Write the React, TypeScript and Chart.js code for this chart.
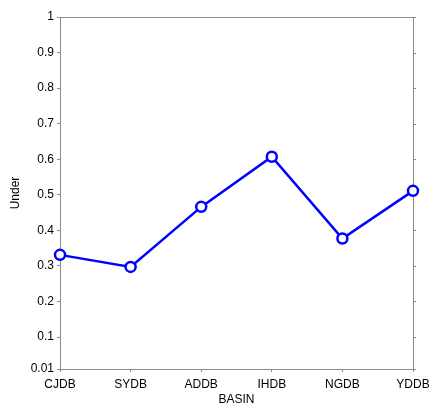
import { useEffect, useRef } from 'react';
import { Chart, registerables } from 'chart.js';
Chart.register(...registerables);

const categories = ['CJDB', 'SYDB', 'ADDB', 'IHDB', 'NGDB', 'YDDB'];
const underValues = [0.331, 0.297, 0.466, 0.607, 0.377, 0.511];
const yTickValues = [0.01, 0.1, 0.2, 0.3, 0.4, 0.5, 0.6, 0.7, 0.8, 0.9, 1];

const AXIS = '#8c8c8c';
const FONT = "'Liberation Sans', Arial, sans-serif";

const boxPlugin = {
  id: 'boxPlugin',
  beforeDatasetsDraw(chart: any) {
    const { ctx, chartArea } = chart;
    const y = chart.scales.y;
    ctx.save();
    ctx.strokeStyle = AXIS;
    ctx.lineWidth = 1;
    ctx.beginPath();
    ctx.moveTo(chartArea.left, chartArea.top + 0.5);
    ctx.lineTo(chartArea.right, chartArea.top + 0.5);
    ctx.moveTo(Math.round(chartArea.right) + 0.5, chartArea.top);
    ctx.lineTo(Math.round(chartArea.right) + 0.5, chartArea.bottom);
    y.ticks.forEach((t: any) => {
      const py = Math.round(y.getPixelForValue(t.value)) + 0.5;
      ctx.moveTo(Math.round(chartArea.right), py);
      ctx.lineTo(Math.round(chartArea.right) + 3, py);
    });
    ctx.stroke();
    ctx.restore();
  },
};

export default function App() {
  const ref = useRef<HTMLCanvasElement>(null);
  useEffect(() => {
    document.body.style.margin = '0';
    const chart = new Chart(ref.current!, {
      type: 'line',
      data: {
        labels: categories,
        datasets: [
          {
            data: underValues,
            borderColor: '#0000ff',
            borderWidth: 2.5,
            pointRadius: 5,
            pointBorderWidth: 2.5,
            pointBackgroundColor: '#ffffff',
            pointBorderColor: '#0000ff',
            tension: 0,
          },
        ],
      },
      plugins: [boxPlugin],
      options: {
        responsive: false,
        animation: false,
        layout: { padding: { top: 17, right: 20, left: 0, bottom: 0 } },
        plugins: { legend: { display: false }, tooltip: { enabled: false } },
        scales: {
          x: {
            type: 'category',
            offset: false,
            grid: { display: true, drawOnChartArea: false, tickLength: 3, color: AXIS },
            border: { color: AXIS },
            ticks: { color: '#000', font: { family: FONT, size: 12 }, padding: 5, maxRotation: 0 },
            title: { display: true, text: 'BASIN', color: '#000', font: { family: FONT, size: 12 }, padding: { top: 0, bottom: -2 } },
            afterFit(scale: any) {
              scale.height = 36;
              scale.paddingLeft = 0;
              scale.paddingRight = 0;
            },
          },
          y: {
            min: 0.01,
            max: 1,
            afterBuildTicks(scale: any) { scale.ticks = yTickValues.map((v) => ({ value: v })); },
            grid: { display: true, drawOnChartArea: false, tickLength: 3, color: AXIS },
            border: { color: AXIS },
            ticks: {
              color: '#000',
              font: { family: FONT, size: 12 },
              padding: 3,
              callback: (v: any) => String(Math.round(Number(v) * 100) / 100),
            },
            title: { display: true, text: 'Under', color: '#000', font: { family: FONT, size: 12 }, padding: { top: 8, bottom: 0 } },
            afterFit(scale: any) { scale.width = 60; },
          },
        },
      },
    } as any);
    return () => chart.destroy();
  }, []);
  return <canvas ref={ref} width={433} height={405} style={{ display: 'block' }} />;
}
